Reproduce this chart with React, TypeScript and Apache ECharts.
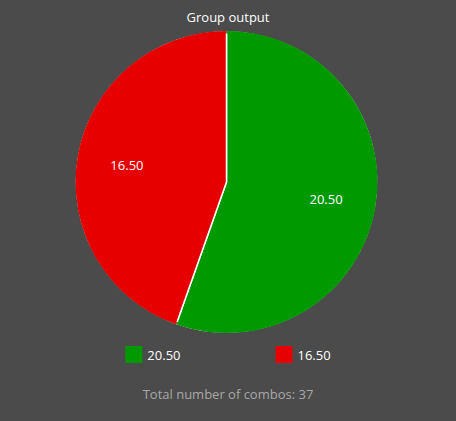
import React, { useEffect, useRef } from "react";
import * as echarts from "echarts";

const categories = ["20.50", "16.50"];
const values = [20.5, 16.5];
const colors = ["#009900", "#e60000"];
const titleText = "Group output";
const footerText = "Total number of combos: 37";

export default function App() {
  const ref = useRef<HTMLDivElement>(null);
  useEffect(() => {
    if (!ref.current) return;
    const chart = echarts.init(ref.current, null, { renderer: "svg" });
    const data = categories.map((name, i) => ({ name, value: values[i], itemStyle: { color: colors[i] } }));
    const common = {
      type: "pie",
      center: [226.5, 182],
      startAngle: 90,
      clockwise: true,
      emphasis: { disabled: true },
      labelLine: { show: false },
    };
    chart.setOption({
      animation: false,
      backgroundColor: "#4b4b4b",
      textStyle: { fontFamily: "Open Sans" },
      title: [
        {
          text: titleText,
          left: "center",
          top: 5,
          textStyle: { color: "#ffffff", fontSize: 13, fontWeight: "normal", fontFamily: "Open Sans" },
        },
        {
          text: footerText,
          left: "center",
          top: 382,
          textStyle: { color: "#a8a8a8", fontSize: 13, fontWeight: "normal", fontFamily: "Open Sans" },
        },
      ],
      legend: {
        data: categories,
        left: "center",
        top: 341,
        itemWidth: 17,
        itemHeight: 17,
        itemGap: 95,
        icon: "rect",
        itemStyle: { borderWidth: 0 },
        textStyle: { color: "#ffffff", fontSize: 13, fontFamily: "Open Sans" },
      },
      series: [
        {
          ...common,
          radius: [0, 150],
          data,
          label: { show: false },
          itemStyle: { borderColor: "#ffffff", borderWidth: 1.5 },
        },
        {
          ...common,
          radius: [148.5, 151],
          silent: true,
          data,
          label: { show: false },
          itemStyle: { borderWidth: 0 },
        },
        {
          ...common,
          radius: [0, 196],
          silent: true,
          data: categories.map((name, i) => ({ name, value: values[i] })),
          itemStyle: { color: "rgba(0,0,0,0)", borderWidth: 0 },
          label: {
            show: true,
            position: "inside",
            color: "#ffffff",
            fontSize: 13,
            fontFamily: "Open Sans",
            formatter: (p: any) => p.name,
          },
        },
      ],
    });
    return () => chart.dispose();
  }, []);
  return (
    <div
      ref={ref}
      style={{ position: "fixed", left: 0, top: 0, width: 456, height: 421 }}
    />
  );
}
